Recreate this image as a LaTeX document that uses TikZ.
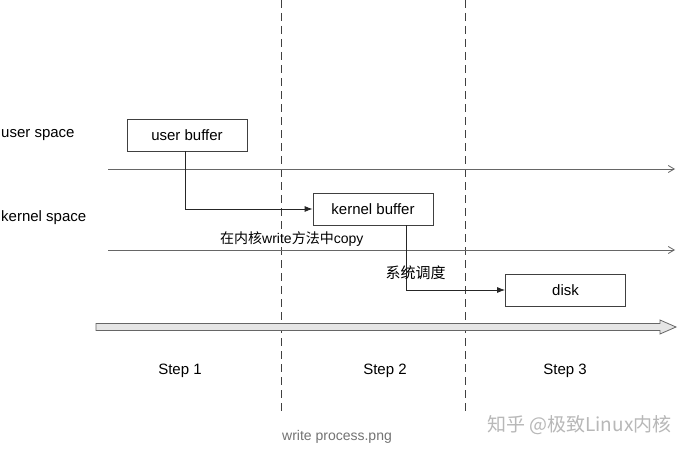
\documentclass[tikz,border=0pt]{standalone}
\usepackage{fontspec}
\setmainfont{Liberation Sans}
\newfontfamily\cjk{Noto Sans CJK SC}
\usetikzlibrary{arrows.meta}
\begin{document}
\begin{tikzpicture}[x=1pt,y=-1pt,
  box/.style={draw=black!75,line width=0.8pt,minimum width=120pt,minimum height=32pt,inner sep=0pt,font=\fontsize{15}{17}\selectfont},
  lbl/.style={font=\fontsize{15}{17}\selectfont,inner sep=0pt},
  sep/.style={draw=black!75,line width=0.8pt,dash pattern=on 8pt off 5pt},
  axis/.style={draw=black!60,line width=0.8pt,-{Straight Barb[length=6pt,width=7pt]}},
  link/.style={draw=black!85,line width=0.8pt,-{Latex[length=8pt,width=6pt]}}]
\useasboundingbox (0,0) rectangle (698,452);
\fill[white] (0,0) rectangle (698,452);
\clip (0,0) rectangle (698,452);
% separators
\coordinate (s1t) at (281,0); \coordinate (s1b) at (281,412);
\coordinate (s2t) at (465,0); \coordinate (s2b) at (465,412);
\draw[sep] (s1t) -- (s1b);
\draw[sep] (s2t) -- (s2b);
% space labels
\node[lbl,anchor=west] (us) at (1,135) {user space};
\node[lbl,anchor=west] (ks) at (1,218) {kernel space};
% axes
\coordinate (a1s) at (108,169); \coordinate (a1e) at (675,169);
\coordinate (a2s) at (108,250); \coordinate (a2e) at (675,250);
\draw[axis] (a1s) -- (a1e);
\draw[axis] (a2s) -- (a2e);
% boxes
\node[box] (ub) at (187,135) {user buffer};
\node[box] (kb) at (373,209) {kernel buffer};
\node[box] (dk) at (565.5,290) {disk};
% connectors
\draw[link] (ub.south -| 185,0) |- (kb.west);
\draw[link] (kb.south -| 406,0) |- (dk.west);
% labels
\node[lbl,anchor=west,font=\fontsize{14}{16}\selectfont] (cp) at (220,239) {{\cjk 在内核}write{\cjk 方法中}copy};
\node[lbl] (sd) at (415.5,273) {\cjk 系统调度};
% big arrow
\coordinate (ba) at (97,327);
\filldraw[draw=black!60,fill=black!10,line width=0.8pt]
  (96,323.5) -- (660,323.5) -- (660,320) -- (676,327) -- (660,334) -- (660,330.5) -- (96,330.5) -- cycle;
% steps
\node[lbl] (st1) at (180,371) {Step 1};
\node[lbl] (st2) at (385,371) {Step 2};
\node[lbl] (st3) at (565,371) {Step 3};
% caption
\node[lbl,text=black!55,font=\fontsize{14}{16}\selectfont] (cap) at (337,437) {write process.png};
\node[lbl,text=black!28,font=\fontsize{19}{21}\selectfont\cjk,anchor=west] (wm) at (487,425) {知乎 @极致Linux内核};
\end{tikzpicture}
\end{document}
